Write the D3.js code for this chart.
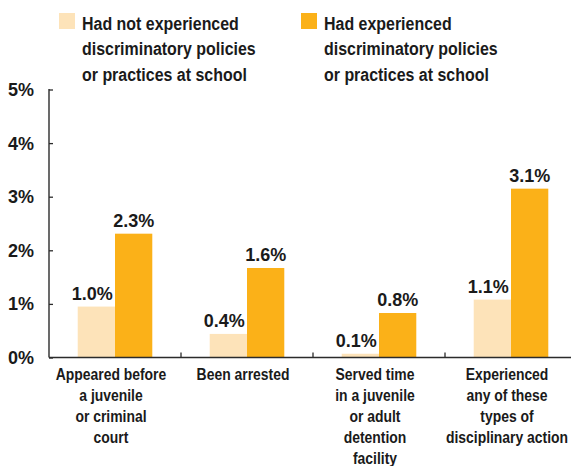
<!DOCTYPE html>
<html>
<head>
<meta charset="utf-8">
<script src="https://cdn.jsdelivr.net/npm/d3@7"></script>
<style>
  body { margin: 0; background: #fff; }
  .narrow { font-family: "Liberation Sans", Arial, sans-serif; font-weight: bold; fill: #1a1a1a; }
  .num { font-family: "Liberation Sans", Arial, sans-serif; font-weight: bold; fill: #1a1a1a; }
</style>
</head>
<body>
<svg id="chart" width="571" height="466"></svg>
<script>
// data
var categories = ['appeared', 'arrested', 'served', 'any'];
var categoryLines = [
    ['Appeared before', 'a juvenile', 'or criminal', 'court'],
    ['Been arrested'],
    ['Served time', 'in a juvenile', 'or adult', 'detention', 'facility'],
    ['Experienced', 'any of these', 'types of', 'disciplinary action']
];
var seriesNames = ['notExperienced', 'experienced'];
var legendLines = [
    ['Had not experienced', 'discriminatory policies', 'or practices at school'],
    ['Had experienced', 'discriminatory policies', 'or practices at school']
];
var notExperienced = [0.95, 0.44, 0.07, 1.08];
var experienced = [2.31, 1.67, 0.83, 3.15];
var notExperiencedLabels = ['1.0%', '0.4%', '0.1%', '1.1%'];
var experiencedLabels = ['2.3%', '1.6%', '0.8%', '3.1%'];
var yTicks = [0, 1, 2, 3, 4, 5];

var COLORS = ['#fde3b9', '#fbb118'];
var AXIS = '#2b2b2b';

var svg = d3.select('#chart');
// plot edges (note: "top" is taken by window, so use plotTop)
var plotLeft = 49, plotBottom = 357.5, plotTop = 89.5;

var x0 = d3.scaleBand()
    .domain(categories)
    .range([plotLeft, plotLeft + 4 * 132])
    .padding(0);
var x1 = d3.scaleBand()
    .domain(seriesNames)
    .range([0, x0.bandwidth()])
    .paddingInner(0)
    .paddingOuter(0.77);
var y = d3.scaleLinear().domain([0, 5]).range([plotBottom, plotTop]);
var color = d3.scaleOrdinal().domain(seriesNames).range(COLORS);

var rows = categories.map((c, i) => ({
    cat: c,
    values: [
        {key: 'notExperienced', v: notExperienced[i], label: notExperiencedLabels[i]},
        {key: 'experienced', v: experienced[i], label: experiencedLabels[i]}
    ]
}));

// bars
var groups = svg.append('g').selectAll('g.group')
    .data(rows)
    .enter()
    .append('g')
    .attr('class', 'group')
    .attr('transform', (d) => `translate(${x0(d.cat)},0)`);

groups.selectAll('rect')
    .data((d) => d.values)
    .enter()
    .append('rect')
    .attr('x', (d) => x1(d.key))
    .attr('y', (d) => y(d.v))
    .attr('width', x1.bandwidth())
    .attr('height', (d) => plotBottom - y(d.v))
    .attr('fill', (d) => color(d.key));

// value labels (the light ones sit a little left in the original)
groups.selectAll('text.val')
    .data((d) => d.values)
    .enter()
    .append('text')
    .attr('class', 'val num')
    .attr('x', (d) => x1(d.key) + x1.bandwidth() / 2 + (d.key == 'notExperienced' ? -4 : 0))
    .attr('y', (d) => y(d.v) - 7)
    .attr('text-anchor', 'middle')
    .style('font-size', '18px')
    .text((d) => d.label);

// y axis
var yAxis = svg.append('g')
    .attr('transform', `translate(${plotLeft},0)`)
    .call(d3.axisRight(y).tickValues(yTicks).tickSize(4).tickFormat(''));
yAxis.select('.domain').remove();
yAxis.selectAll('line').attr('stroke', AXIS).attr('stroke-width', 1.3);
svg.append('line')
    .attr('x1', plotLeft).attr('x2', plotLeft)
    .attr('y1', plotTop - 0.6).attr('y2', plotBottom)
    .attr('stroke', AXIS).attr('stroke-width', 1.4);

svg.append('g').selectAll('text.ytick')
    .data(yTicks)
    .enter()
    .append('text')
    .attr('class', 'ytick num')
    .attr('x', 34)
    .attr('y', (d) => y(d))
    .attr('dy', '0.36em')
    .attr('text-anchor', 'end')
    .style('font-size', '18px')
    .text((d) => d + '%');

// x axis with separators between groups
svg.append('line')
    .attr('x1', plotLeft).attr('x2', 571)
    .attr('y1', plotBottom).attr('y2', plotBottom)
    .attr('stroke', AXIS).attr('stroke-width', 1.4);
svg.append('g').selectAll('line.sep')
    .data(categories.slice(1))
    .enter()
    .append('line')
    .attr('x1', (d) => x0(d)).attr('x2', (d) => x0(d))
    .attr('y1', plotBottom).attr('y2', plotBottom - 5)
    .attr('stroke', AXIS).attr('stroke-width', 1.3);

// category labels, squeezed horizontally to mimic a condensed face
var catText = svg.append('g').selectAll('g.cat')
    .data(categories)
    .enter()
    .append('g')
    .attr('class', 'cat')
    .attr('transform', (d) => `translate(${x0(d) + x0.bandwidth() / 2 - 4},380) scale(0.87,1)`)
    .append('text')
    .attr('class', 'narrow')
    .attr('text-anchor', 'middle')
    .style('font-size', '16px');
catText.selectAll('tspan')
    .data((d, i) => categoryLines[i])
    .enter()
    .append('tspan')
    .attr('x', 0)
    .attr('dy', (d, i) => i == 0 ? 0 : 21)
    .text((d) => d);

// legend
var legendX = [59, 301];
var legend = svg.append('g').selectAll('g.legend')
    .data(seriesNames)
    .enter()
    .append('g')
    .attr('class', 'legend')
    .attr('transform', (d, i) => `translate(${legendX[i]},13)`);
legend.append('rect')
    .attr('width', 16)
    .attr('height', 16)
    .attr('fill', (d) => color(d));
legend.append('g')
    .attr('transform', 'translate(23,17) scale(0.84,1)')
    .append('text')
    .attr('class', 'narrow')
    .style('font-size', '19px')
    .selectAll('tspan')
    .data((d, i) => legendLines[i])
    .enter()
    .append('tspan')
    .attr('x', 0)
    .attr('dy', (d, i) => i == 0 ? 0 : 25.5)
    .text((d) => d);
</script>
</body>
</html>
